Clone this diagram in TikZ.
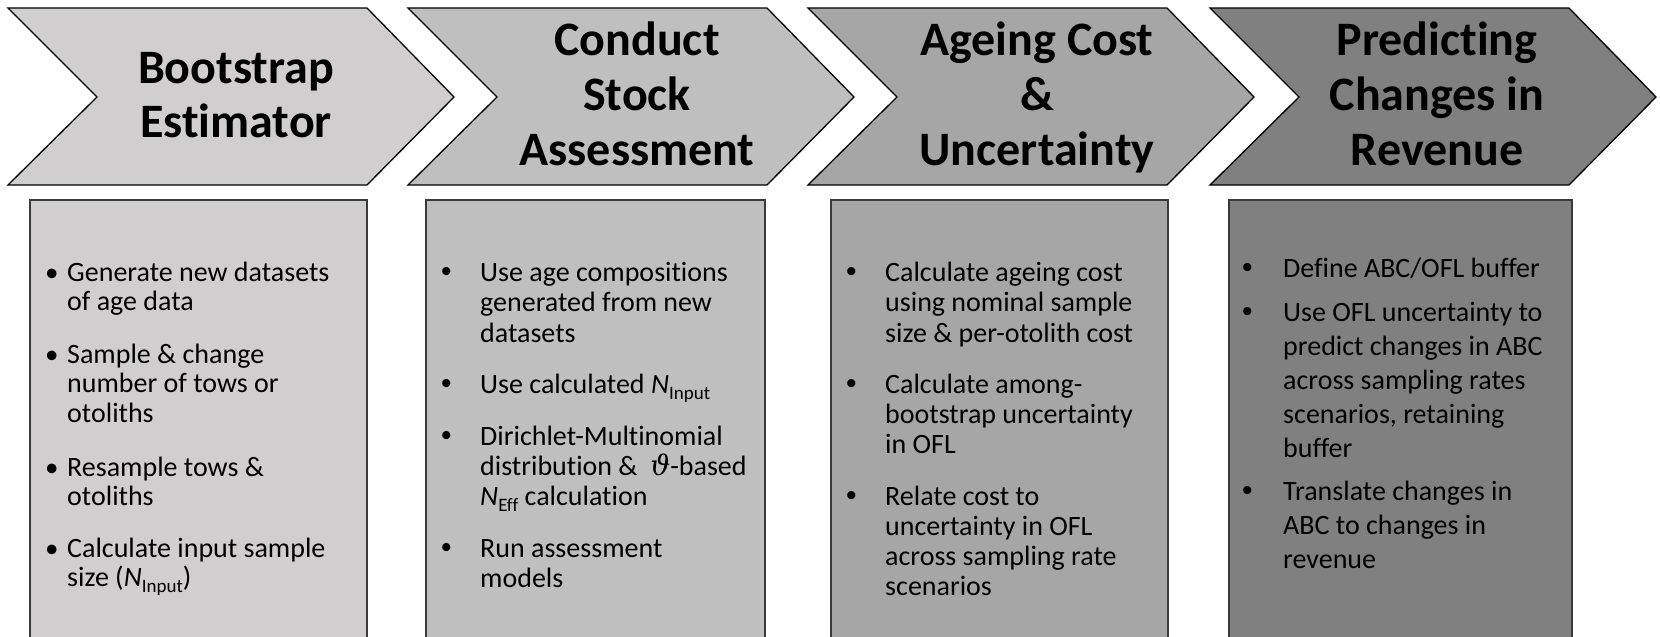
\documentclass[tikz,border=0pt]{standalone}
\usepackage{fontspec}
\setmainfont{Carlito}[Ligatures=NoCommon]
\newfontfamily\bulletfont{Liberation Sans}
\newfontfamily\greekfont{DejaVu Serif}

\definecolor{stageA}{HTML}{D0CECE}
\definecolor{stageB}{HTML}{BFBFBF}
\definecolor{stageC}{HTML}{A6A6A6}
\definecolor{stageD}{HTML}{808080}
\definecolor{rim}{HTML}{3A3A3A}

\tikzset{
  chevron/.style={draw=black, line width=1.3pt, line join=miter},
  panel/.style={draw=rim, line width=1.6pt},
  heading/.style={anchor=base, inner sep=0pt},
  item/.style={anchor=base west, inner sep=0pt},
  dot/.style={anchor=base west, inner sep=0pt},
}

% heading text: centred lines, fixed line pitch
\newcommand\headlines[2]{\parbox[t]{420pt}{\centering\fontsize{48}{#1}\selectfont\bfseries #2}}
% bullet text: ragged lines, fixed line pitch
\newcommand\bodylines[2]{\parbox[t]{300pt}{\raggedright\fontsize{28}{#1}\selectfont #2}}
% lowered small index after an italic N
\newcommand\idx[1]{\raisebox{-6pt}{\fontsize{19}{19}\selectfont #1}}
\newcommand\bigdot{{\bulletfont\fontsize{30}{30}\selectfont •}}
\newcommand\smalldot{{\fontsize{27}{27}\selectfont •}}

% one chevron: left x, fill colour
\newcommand\chevron[2]{%
  \filldraw[chevron, fill=#2] (#1,8) -- ++(359,0) -- ++(87,89) -- ++(-87,88)
    -- ++(-359,0) -- ++(89,-88) -- cycle;}

\begin{document}
\begin{tikzpicture}[x=1pt, y=-1pt]
  \useasboundingbox (0,0) rectangle (1660,637);
  \clip (0,0) rectangle (1660,637);

  % stage chevrons
  \chevron{8}{stageA}
  \chevron{408}{stageB}
  \chevron{808}{stageC}
  \chevron{1210}{stageD}

  \node[heading] (h1) at (236,83)  {\headlines{54pt}{Bootstrap\\Estimator}};
  \node[heading] (h2) at (637,55)  {\headlines{55pt}{Conduct\\Stock\\Assessment}};
  \node[heading] (h3) at (1037,55) {\headlines{55pt}{Ageing Cost\\\&\\Uncertainty}};
  \node[heading] (h4) at (1437,55) {\headlines{55pt}{Predicting\\Changes in\\Revenue}};

  % detail panels
  \filldraw[panel, fill=stageA] (30,200)   rectangle (367,680);
  \filldraw[panel, fill=stageB] (426,200)  rectangle (765,680);
  \filldraw[panel, fill=stageC] (831,200)  rectangle (1168,680);
  \filldraw[panel, fill=stageD] (1229,200) rectangle (1572,680);

  % panel 1
  \node[dot] (d1a) at (45,281) {\smalldot};
  \node[dot] (d1b) at (45,363) {\smalldot};
  \node[dot] (d1c) at (45,476) {\smalldot};
  \node[dot] (d1d) at (45,557) {\smalldot};
  \node[item] (t1a) at (67,281) {\bodylines{29.5pt}{Generate new datasets\\of age data}};
  \node[item] (t1b) at (67,363) {\bodylines{29.5pt}{Sample \& change\\number of tows or\\otoliths}};
  \node[item] (t1c) at (67,476) {\bodylines{29.5pt}{Resample tows \&\\otoliths}};
  \node[item] (t1d) at (67,557) {\bodylines{29.5pt}{Calculate input sample\\size (\textit{N}\idx{Input})}};

  % panel 2
  \node[dot] (d2a) at (441,281) {\bigdot};
  \node[dot] (d2b) at (441,393) {\bigdot};
  \node[dot] (d2c) at (441,445) {\bigdot};
  \node[dot] (d2d) at (441,557) {\bigdot};
  \node[item] (t2a) at (480,281) {\bodylines{30.5pt}{Use age compositions\\generated from new\\datasets}};
  \node[item] (t2b) at (480,393) {\bodylines{30pt}{Use calculated \textit{N}\idx{Input}}};
  \node[item] (t2c) at (480,445) {\bodylines{30pt}{Dirichlet-Multinomial\\distribution \&\ \ {\greekfont\itshape ϑ}-based\\\textit{N}\idx{Eff} calculation}};
  \node[item] (t2d) at (480,557) {\bodylines{30pt}{Run assessment\\models}};

  % panel 3
  \node[dot] (d3a) at (846,281) {\bigdot};
  \node[dot] (d3b) at (846,393) {\bigdot};
  \node[dot] (d3c) at (846,505) {\bigdot};
  \node[item] (t3a) at (885,281) {\bodylines{30.5pt}{Calculate ageing cost\\using nominal sample\\size \& per-otolith cost}};
  \node[item] (t3b) at (885,393) {\bodylines{30pt}{Calculate among-\\bootstrap uncertainty\\in OFL}};
  \node[item] (t3c) at (885,505) {\bodylines{30pt}{Relate cost to\\uncertainty in OFL\\across sampling rate\\scenarios}};

  % panel 4
  \node[dot] (d4a) at (1242,277) {\bigdot};
  \node[dot] (d4b) at (1242,321) {\bigdot};
  \node[dot] (d4c) at (1242,500) {\bigdot};
  \node[item] (t4a) at (1283,277) {\bodylines{34pt}{Define ABC/OFL buffer}};
  \node[item] (t4b) at (1283,321) {\bodylines{34pt}{Use OFL uncertainty to\\predict changes in ABC\\across sampling rates\\scenarios, retaining\\buffer}};
  \node[item] (t4c) at (1283,500) {\bodylines{34pt}{Translate changes in\\ABC to changes in\\revenue}};
\end{tikzpicture}
\end{document}
